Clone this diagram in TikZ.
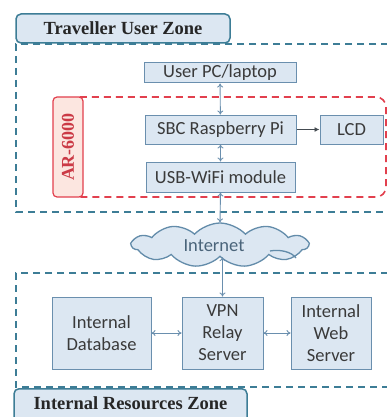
\documentclass[tikz,border=0pt]{standalone}
\usepackage{fontspec}
\setmainfont{Liberation Serif}
\newfontfamily\boxfont{Carlito}
\usetikzlibrary{arrows.meta,shapes.symbols}
\definecolor{boxfill}{HTML}{DCE7F2}
\definecolor{boxline}{HTML}{6A8FAE}
\definecolor{zoneline}{HTML}{3D7D96}
\definecolor{redline}{HTML}{E2404E}
\definecolor{arfill}{HTML}{FCE6E0}
\definecolor{txt}{HTML}{3A3A3A}
\tikzset{
  blk/.style={draw=boxline,fill=boxfill,line width=1pt,inner sep=0pt,align=center,
    font=\boxfont\fontsize{18.5}{22}\selectfont,text=txt},
  zonelabel/.style={draw=zoneline,fill=boxfill,line width=1.5pt,rounded corners=5pt,inner sep=0pt,
    font=\bfseries\fontsize{18.5}{20}\selectfont,text=black!85},
  zone/.style={draw=zoneline,line width=1.6pt,dash pattern=on 7pt off 5pt},
  redzone/.style={draw=redline,line width=1.6pt,dash pattern=on 7pt off 5pt,rounded corners=10pt},
  dbl/.style={draw=boxline,line width=0.9pt,{To[length=4pt,width=6pt]}-{To[length=4pt,width=6pt]}},
  sgl/.style={draw=txt!80!boxline,line width=0.9pt,-{Latex[length=5pt,width=5pt]}}
}
\begin{document}
\begin{tikzpicture}[x=1pt,y=-1pt]
\clip (0,0) rectangle (387,417);
\fill[white] (0,0) rectangle (387,417);
% zones
\draw[zone] (400,44) -- (16,44) -- (16,212) -- (400,212);
\draw[zone] (400,273) -- (16,273) -- (16,387) -- (400,387);
\draw[redzone] (70,97) rectangle (386,197);
% labels
\node[zonelabel,minimum width=214pt,minimum height=29pt] (tuz) at (123,28.5) {Traveller User Zone};
\node[zonelabel,minimum width=233pt,minimum height=40pt,anchor=north] (irz) at (130.5,388) {\raisebox{0pt}[0pt][0pt]{\raisebox{-1pt}{Internal Resources Zone}}};
\node[draw=redline,fill=arfill,line width=1.2pt,rounded corners=4pt,rotate=90,inner sep=0pt,
  minimum width=100pt,minimum height=30pt,font=\bfseries\fontsize{18}{20}\selectfont,text=redline!90!black] (ar) at (68,147) {AR-6000};
% blocks
\node[blk,minimum width=152pt,minimum height=20pt] (pc) at (220,73) {User PC/laptop};
\node[blk,minimum width=151pt,minimum height=29pt] (sbc) at (220.5,129.5) {SBC Raspberry Pi};
\node[blk,minimum width=63pt,minimum height=29pt] (lcd) at (351.5,129.5) {LCD};
\node[blk,minimum width=149pt,minimum height=30pt] (usb) at (220.5,177) {USB-WiFi module};
\node[cloud,cloud puffs=11,cloud puff arc=95,cloud ignores aspect,draw=boxline!85!zoneline,line width=1.3pt,fill=boxfill,
  minimum width=176pt,minimum height=44pt,inner sep=0pt,font=\boxfont\fontsize{18.5}{22}\selectfont,text=boxline!70!black] (net) at (220,245) {};
\node[font=\boxfont\fontsize{18.5}{22}\selectfont,text=boxline!70!black,inner sep=0pt] (nettxt) at (214,246) {Internet};
\draw[boxline!85!zoneline,line width=1.3pt] (270,251) .. controls (280,249) and (292,252) .. (296,258);
% connectors
\node[blk,minimum width=99pt,minimum height=72pt] (db) at (101.5,333) {Internal\\Database};
\node[blk,minimum width=81pt,minimum height=72pt] (vpn) at (222.5,333) {VPN\\Relay\\Server};
\node[blk,minimum width=80pt,minimum height=72pt] (web) at (331,333) {Internal\\Web\\Server};
\draw[dbl] (pc) -- (sbc);
\draw[dbl] (sbc) -- (usb);
\draw[dbl] (usb.south) -- (net.north);
\draw[dbl] (net.south -| vpn.north) -- (vpn.north);
\draw[sgl] (sbc) -- (lcd);
\draw[dbl] (db) -- (vpn);
\draw[dbl] (vpn) -- (web);
\end{tikzpicture}
\end{document}
